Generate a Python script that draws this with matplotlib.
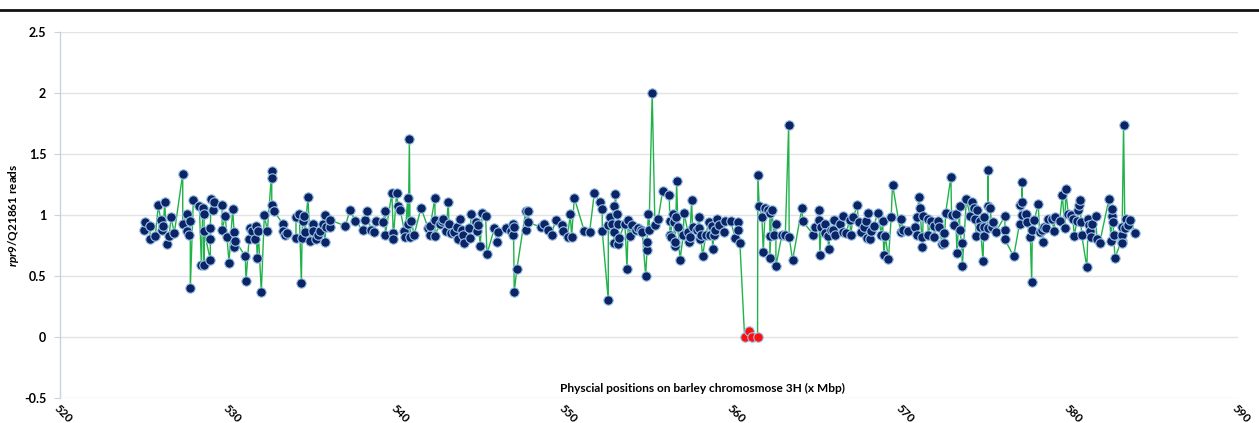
import matplotlib
matplotlib.use("Agg")
import matplotlib.pyplot as plt
from matplotlib.lines import Line2D

# --- Data ---

# Physical positions (Mbp) of the markers and their read ratios
positions = [
    524.99, 525.07, 525.35, 525.35, 525.66, 525.84, 525.98, 526.06, 526.14, 526.22,
    526.34, 526.48, 526.60, 526.79, 527.29, 527.29, 527.55, 527.55, 527.65, 527.74,
    527.74, 527.92, 528.28, 528.40, 528.48, 528.56, 528.56, 528.56, 528.93, 528.93,
    528.93, 528.97, 529.07, 529.15, 529.63, 529.63, 529.82, 529.92, 530.04, 530.26,
    530.34, 530.34, 530.42, 531.01, 531.05, 531.23, 531.29, 531.41, 531.57, 531.64,
    531.72, 531.78, 531.96, 532.14, 532.32, 532.58, 532.58, 532.58, 532.72, 533.23,
    533.27, 533.39, 533.51, 534.02, 534.02, 534.22, 534.34, 534.38, 534.42, 534.50,
    534.56, 534.73, 534.85, 535.05, 535.05, 535.21, 535.31, 535.45, 535.60, 535.72,
    535.74, 535.80, 536.04, 536.04, 536.95, 537.23, 537.55, 537.98, 538.14, 538.26,
    538.46, 538.66, 538.77, 539.17, 539.33, 539.33, 539.72, 539.80, 539.80, 540.00,
    540.10, 540.22, 540.46, 540.50, 540.66, 540.70, 540.76, 540.80, 540.86, 541.05,
    541.45, 541.88, 541.96, 542.00, 542.28, 542.28, 542.28, 542.56, 542.68, 542.76,
    542.95, 543.07, 543.11, 543.23, 543.43, 543.59, 543.67, 543.75, 543.87, 543.95,
    543.98, 544.30, 544.38, 544.42, 544.70, 544.78, 544.86, 544.97, 545.09, 545.29,
    545.37, 545.81, 545.96, 546.00, 546.48, 546.80, 546.91, 546.91, 546.95, 546.99,
    547.15, 547.67, 547.71, 547.83, 547.83, 548.58, 548.78, 548.97, 549.21, 549.45,
    549.81, 549.89, 550.16, 550.32, 550.40, 550.56, 551.15, 551.47, 551.75, 552.06,
    552.22, 552.22, 552.58, 552.58, 552.66, 552.78, 552.90, 552.90, 552.90, 553.00,
    553.09, 553.13, 553.13, 553.21, 553.57, 553.69, 553.77, 553.88, 553.96, 554.20,
    554.36, 554.52, 554.60, 554.80, 554.88, 554.88, 554.96, 555.00, 555.19, 555.35,
    555.55, 555.81, 556.20, 556.24, 556.24, 556.28, 556.40, 556.48, 556.52, 556.56,
    556.60, 556.64, 556.72, 556.84, 557.04, 557.08, 557.31, 557.35, 557.43, 557.53,
    557.59, 557.83, 557.99, 557.99, 558.03, 558.07, 558.18, 558.38, 558.54, 558.62,
    558.74, 558.78, 558.86, 558.94, 559.06, 559.17, 559.45, 559.49, 559.85, 560.13,
    560.28, 560.28, 560.40, 561.47, 561.55, 561.71, 561.79, 561.91, 562.07, 562.18,
    562.18, 562.18, 562.30, 562.42, 562.54, 562.54, 562.90, 563.10, 563.30, 563.33,
    563.53, 564.09, 564.13, 564.76, 564.84, 565.12, 565.12, 565.15, 565.23, 565.43,
    565.43, 565.63, 565.67, 565.79, 565.95, 565.99, 566.03, 566.34, 566.50, 566.54,
    566.70, 566.94, 566.98, 567.14, 567.37, 567.45, 567.61, 567.77, 567.89, 567.93,
    568.01, 568.12, 568.20, 568.36, 568.60, 568.80, 568.88, 568.96, 569.04, 569.23,
    569.39, 569.47, 569.95, 569.99, 570.11, 570.42, 570.78, 570.94, 570.94, 571.02,
    571.10, 571.21, 571.25, 571.29, 571.56, 571.60, 571.76, 571.95, 571.95, 572.15,
    572.23, 572.43, 572.51, 572.55, 572.63, 572.94, 572.98, 573.14, 573.22, 573.30,
    573.46, 573.46, 573.58, 573.62, 573.86, 574.09, 574.21, 574.29, 574.37, 574.45,
    574.49, 574.65, 574.69, 574.85, 574.89, 574.92, 574.92, 575.12, 575.16, 575.16,
    575.28, 575.36, 575.44, 575.60, 576.15, 576.15, 576.15, 576.67, 577.02, 577.06,
    577.14, 577.18, 577.18, 577.38, 577.46, 577.66, 577.74, 577.78, 577.90, 578.13,
    578.21, 578.33, 578.41, 578.45, 578.61, 578.73, 578.93, 579.08, 579.12, 579.40,
    579.56, 579.72, 579.76, 579.91, 580.07, 580.19, 580.27, 580.43, 580.47, 580.55,
    580.63, 580.67, 580.71, 581.02, 581.10, 581.14, 581.22, 581.26, 581.34, 581.54,
    581.62, 581.78, 582.33, 582.45, 582.49, 582.53, 582.57, 582.61, 582.69, 583.08,
    583.08, 583.08, 583.12, 583.20, 583.28, 583.36, 583.44, 583.56, 583.91,
]
reads = [
    0.88, 0.94, 0.91, 0.80, 0.83, 1.08, 0.96, 0.88, 0.91, 1.11,
    0.76, 0.83, 0.98, 0.85, 1.34, 0.93, 1.01, 0.87, 0.84, 0.95,
    0.40, 1.12, 1.07, 0.59, 1.06, 1.01, 0.59, 0.87, 0.63, 0.80,
    0.89, 1.13, 1.04, 1.11, 1.08, 0.88, 0.99, 0.82, 0.61, 1.05,
    0.86, 0.74, 0.79, 0.66, 0.46, 0.80, 0.89, 0.87, 0.80, 0.91,
    0.65, 0.87, 0.37, 1.00, 0.87, 1.36, 1.30, 1.08, 1.03, 0.93,
    0.87, 0.84, 0.85, 0.81, 0.98, 1.01, 0.44, 0.81, 0.95, 0.99,
    0.86, 1.15, 0.79, 0.93, 0.87, 0.80, 0.84, 0.87, 0.93, 1.00,
    0.78, 0.90, 0.90, 0.96, 0.91, 1.04, 0.95, 0.88, 0.96, 1.03,
    0.88, 0.86, 0.95, 0.94, 1.03, 0.84, 1.18, 0.85, 0.80, 1.18,
    1.07, 1.04, 0.87, 0.82, 1.14, 0.93, 1.62, 0.82, 0.95, 0.84,
    1.06, 0.89, 0.84, 0.91, 1.14, 0.96, 0.83, 0.93, 0.95, 0.97,
    0.87, 1.11, 0.93, 0.85, 0.86, 0.90, 0.80, 0.97, 0.88, 0.84,
    0.77, 0.89, 0.81, 1.01, 0.94, 0.87, 0.92, 0.75, 1.02, 0.99,
    0.68, 0.89, 0.78, 0.86, 0.89, 0.87, 0.93, 0.84, 0.90, 0.37,
    0.56, 1.03, 0.88, 1.03, 0.94, 0.90, 0.93, 0.88, 0.84, 0.96,
    0.92, 0.87, 0.82, 1.01, 0.82, 1.14, 0.87, 0.86, 1.18, 1.11,
    1.05, 0.87, 0.30, 0.92, 0.98, 0.93, 1.07, 0.77, 0.86, 1.17,
    1.01, 0.93, 0.76, 0.81, 0.93, 0.56, 0.96, 0.83, 0.92, 0.88,
    0.89, 0.88, 0.86, 0.50, 0.71, 0.78, 1.01, 0.88, 2.00, 0.92,
    0.97, 1.20, 1.16, 0.95, 0.84, 0.82, 1.01, 0.94, 0.75, 0.78,
    0.98, 1.28, 0.90, 0.63, 0.84, 1.02, 0.86, 0.78, 0.82, 1.12,
    0.90, 0.88, 0.98, 0.89, 0.80, 0.84, 0.66, 0.84, 0.94, 0.84,
    0.91, 0.72, 0.84, 0.88, 0.97, 0.92, 0.86, 0.95, 0.95, 0.81,
    0.94, 0.88, 0.77, 1.33, 1.07, 0.98, 0.70, 1.06, 1.04, 1.02,
    0.83, 0.65, 1.04, 0.84, 0.93, 0.58, 0.84, 0.84, 1.74, 0.82,
    0.63, 1.06, 0.95, 0.84, 0.90, 1.04, 0.96, 0.67, 0.90, 0.93,
    0.85, 0.83, 0.72, 0.88, 0.88, 0.96, 0.84, 0.93, 0.99, 0.86,
    0.85, 0.96, 0.84, 0.98, 1.08, 0.94, 0.86, 0.90, 0.95, 0.81,
    1.02, 0.80, 0.87, 0.91, 1.02, 0.84, 0.95, 0.67, 0.83, 0.64,
    0.98, 1.25, 0.86, 0.97, 0.88, 0.87, 0.90, 0.98, 0.84, 1.15,
    1.06, 0.82, 0.74, 0.99, 0.97, 0.84, 0.95, 0.91, 0.82, 0.95,
    0.90, 0.76, 0.85, 0.77, 1.02, 1.31, 1.00, 0.92, 1.01, 0.69,
    1.07, 0.88, 0.77, 0.58, 1.13, 0.99, 1.11, 1.06, 0.97, 0.83,
    1.04, 0.95, 0.90, 0.62, 0.90, 0.83, 0.98, 0.89, 1.37, 1.07,
    1.06, 0.90, 0.94, 0.86, 0.99, 0.88, 0.80, 0.66, 0.93, 1.08,
    1.11, 1.27, 1.00, 1.01, 0.94, 0.82, 0.45, 0.88, 0.96, 1.09,
    0.86, 0.88, 0.78, 0.90, 0.89, 0.97, 0.97, 0.87, 0.98, 0.95,
    1.16, 0.89, 1.21, 1.01, 1.00, 0.97, 0.83, 0.95, 1.04, 1.08,
    1.12, 0.94, 0.84, 0.57, 0.97, 0.92, 0.87, 0.82, 0.93, 0.99,
    0.80, 0.77, 1.13, 0.79, 0.99, 1.05, 0.94, 0.84, 0.65, 0.79,
    0.84, 0.77, 0.90, 1.74, 0.89, 0.97, 0.92, 0.96, 0.85,
]

# Markers with no reads (highlighted in red)
null_positions = [560.68, 560.96, 561.10, 561.45]
null_reads = [0.00, 0.05, 0.00, 0.00]

x_ticks = [520, 530, 540, 550, 560, 570, 580, 590]
y_ticks = [-0.5, 0, 0.5, 1, 1.5, 2, 2.5]
y_tick_labels = ["-0.5", "0", "0.5", "1", "1.5", "2", "2.5"]


# --- Styling ---
plt.rcParams["font.family"] = ["Lato", "DejaVu Sans"]
plt.rcParams["mathtext.fontset"] = "custom"
plt.rcParams["mathtext.it"] = "Lato:italic:bold"
plt.rcParams["mathtext.rm"] = "Lato:bold"

navy = "#0b2466"
edge = "#9dc3e6"
green = "#1fb34a"
grid_grey = "#e3e3e3"

fig = plt.figure(figsize=(12.59, 4.23), dpi=100)
ax = fig.add_axes([0.0477, 0.0591, 0.9356, 0.8652])

# merge the two series in position order for the connecting line
merged = sorted(
    list(zip(positions, reads)) + list(zip(null_positions, null_reads)),
    key=lambda p: p[0],
)
line_x = [p[0] for p in merged]
line_y = [p[1] for p in merged]

ax.plot(line_x, line_y, "-", color=green, linewidth=1.0, zorder=2)
ax.plot(positions, reads, "o", color=navy, markeredgecolor=edge,
        markeredgewidth=0.8, markersize=6.8, zorder=3)
ax.plot(null_positions, null_reads, "o", color="#ff1010", markeredgecolor=edge,
        markeredgewidth=0.8, markersize=6.8, zorder=4)

ax.set_xlim(520, 590)
ax.set_ylim(-0.5, 2.5)
ax.set_yticks(y_ticks)
ax.set_yticklabels(y_tick_labels, fontsize=9, fontweight="bold")
ax.set_xticks(x_ticks)
ax.set_xticklabels([str(t) for t in x_ticks], fontsize=8.5, fontweight="bold",
                   rotation=-45, ha="left", va="top", rotation_mode="anchor")
ax.tick_params(axis="x", length=0, pad=3)
ax.tick_params(axis="y", length=4, color="#c9d2e3", pad=6)

ax.grid(axis="y", color=grid_grey, linewidth=1.0, zorder=0)
for side in ["top", "right", "bottom"]:
    ax.spines[side].set_visible(False)
ax.spines["left"].set_color("#c9d2e3")
ax.spines["left"].set_linewidth(1.0)

ax.set_ylabel(r"$\it{rpr9}$/Q21861 reads", fontsize=8.5, fontweight="bold")
ax.yaxis.set_label_coords(-0.033, 0.5)
ax.text(0.545, 0.012, "Physcial positions on barley chromosmose 3H (x Mbp)",
        transform=ax.transAxes, ha="center", va="bottom",
        fontsize=8.6, fontweight="bold")

# black rule across the top of the figure
fig.add_artist(Line2D([0, 1], [0.977, 0.977], transform=fig.transFigure,
                      color="#111111", linewidth=2.0))

plt.savefig("out.png", dpi=100)
plt.close(fig)
